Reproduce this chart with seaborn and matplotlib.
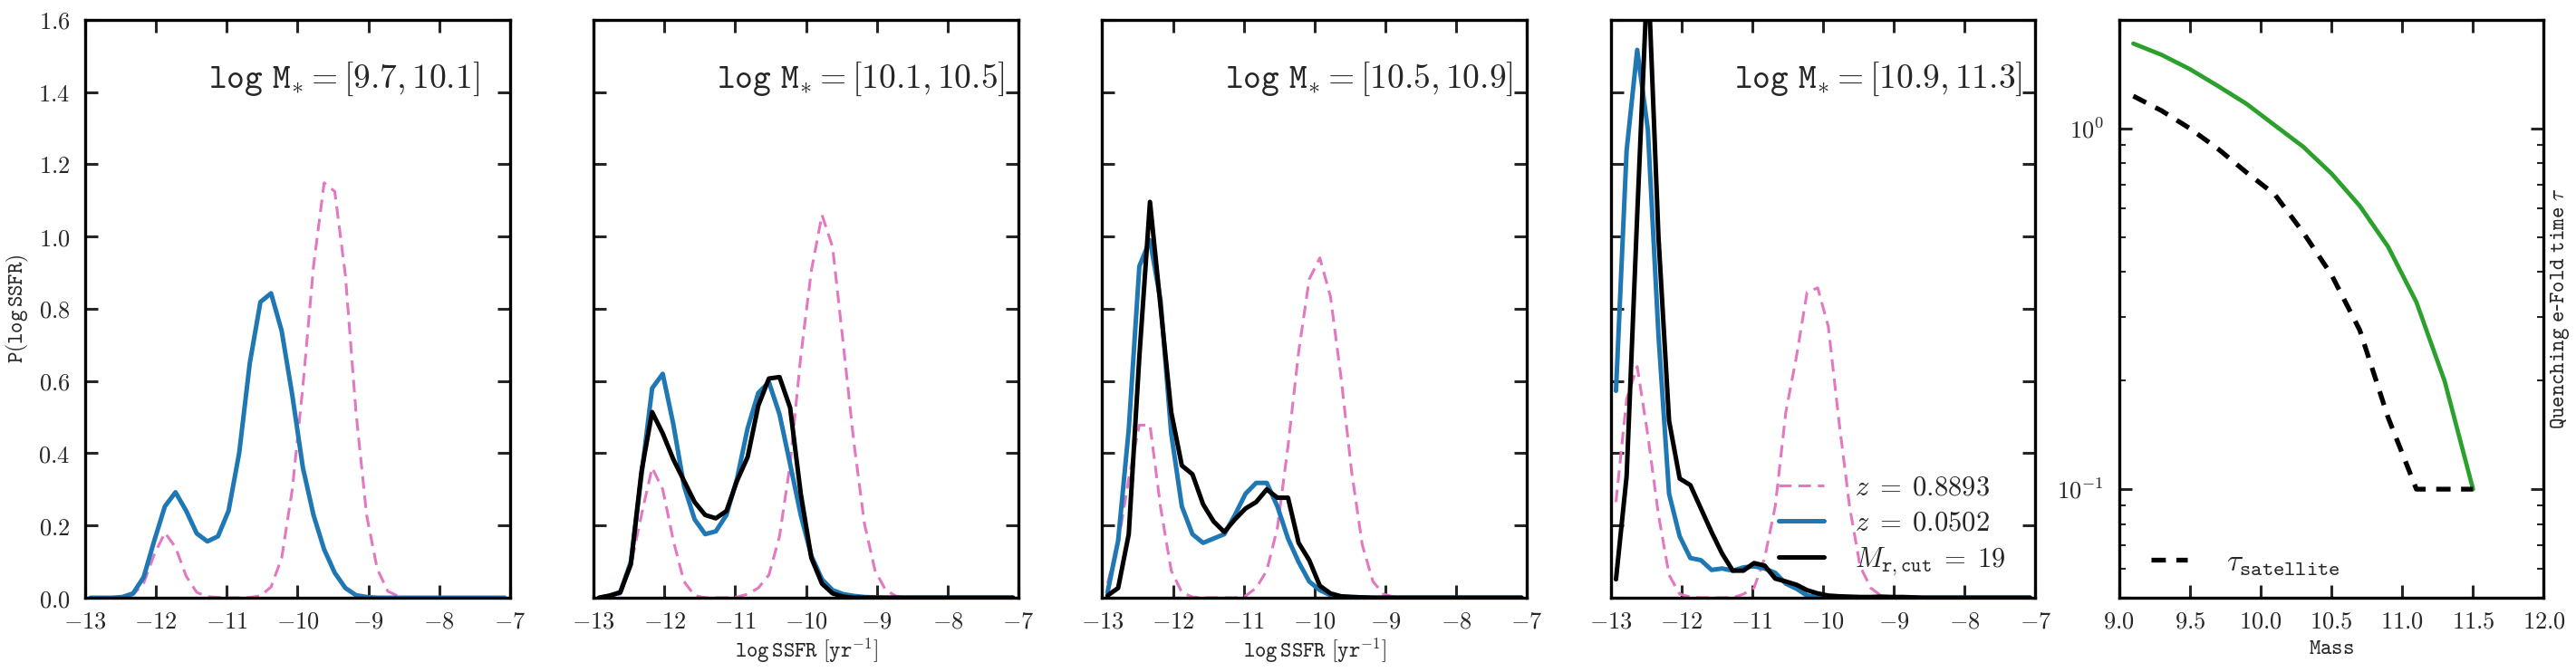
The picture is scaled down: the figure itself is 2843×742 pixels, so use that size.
import numpy as np
import pandas as pd
import matplotlib
matplotlib.use("Agg")
import matplotlib.pyplot as plt
from matplotlib.ticker import FixedLocator, NullFormatter
import seaborn as sns

# ---------------- data ----------------
SSFR_CENTERS = [-12.925, -12.775, -12.625, -12.475, -12.325, -12.175, -12.025, -11.875,
                -11.725, -11.575, -11.425, -11.275, -11.125, -10.975, -10.825, -10.675,
                -10.525, -10.375, -10.225, -10.075, -9.925, -9.775, -9.625, -9.475,
                -9.325, -9.175, -9.025, -8.875, -8.725, -8.575, -8.425, -8.275,
                -8.125, -7.975, -7.825, -7.675, -7.525, -7.375, -7.225, -7.075]

P1_PINK = [0.000, 0.000, 0.000, 0.000, 0.008, 0.040, 0.120, 0.180, 0.140, 0.060,
           0.015, 0.003, 0.001, 0.000, 0.000, 0.001, 0.005, 0.030, 0.110, 0.300,
           0.585, 0.918, 1.149, 1.125, 0.894, 0.514, 0.229, 0.080, 0.018, 0.004,
           0, 0, 0, 0, 0, 0, 0, 0, 0, 0]
P1_BLUE = [0.000, 0.000, 0.000, 0.002, 0.012, 0.057, 0.158, 0.253, 0.292, 0.241,
           0.178, 0.156, 0.170, 0.241, 0.401, 0.650, 0.819, 0.843, 0.739, 0.561,
           0.360, 0.229, 0.134, 0.069, 0.027, 0.007, 0.002, 0.000, 0.000, 0.000,
           0, 0, 0, 0, 0, 0, 0, 0, 0, 0]

P2_PINK = [0.000, 0.000, 0.010, 0.090, 0.230, 0.360, 0.300, 0.158, 0.045, 0.006,
           0.000, 0.000, 0.000, 0.002, 0.010, 0.027, 0.063, 0.170, 0.370, 0.668,
           0.906, 1.060, 0.971, 0.704, 0.431, 0.205, 0.075, 0.021, 0.004, 0.000,
           0, 0, 0, 0, 0, 0, 0, 0, 0, 0]
P2_BLUE = [0.000, 0.005, 0.015, 0.100, 0.340, 0.580, 0.620, 0.480, 0.310, 0.217,
           0.176, 0.184, 0.229, 0.330, 0.470, 0.567, 0.597, 0.508, 0.370, 0.229,
           0.116, 0.051, 0.021, 0.010, 0.005, 0.002, 0.001, 0.000, 0.000, 0.000,
           0, 0, 0, 0, 0, 0, 0, 0, 0, 0]
P2_BLACK = [0.000, 0.006, 0.015, 0.093, 0.350, 0.514, 0.455, 0.383, 0.324, 0.265,
            0.229, 0.220, 0.240, 0.324, 0.390, 0.532, 0.607, 0.611, 0.526, 0.288,
            0.110, 0.039, 0.012, 0.003, 0.000, 0.000, 0.000, 0.000, 0.000, 0.000,
            0, 0, 0, 0, 0, 0, 0, 0, 0, 0]

P3_PINK = [0.040, 0.150, 0.330, 0.478, 0.478, 0.250, 0.075, 0.015, 0.002, 0.000,
           0.000, 0.000, 0.000, 0.005, 0.027, 0.075, 0.193, 0.419, 0.680, 0.882,
           0.941, 0.834, 0.609, 0.348, 0.146, 0.045, 0.010, 0.002, 0.000, 0.000,
           0, 0, 0, 0, 0, 0, 0, 0, 0, 0]
P3_BLUE = [0.015, 0.158, 0.466, 0.918, 0.990, 0.822, 0.455, 0.253, 0.176, 0.152,
           0.164, 0.176, 0.229, 0.288, 0.318, 0.318, 0.253, 0.164, 0.099, 0.045,
           0.021, 0.007, 0.003, 0.002, 0.001, 0.000, 0.000, 0.000, 0.000, 0.000,
           0, 0, 0, 0, 0, 0, 0, 0, 0, 0]
P3_BLACK = [0.006, 0.027, 0.176, 0.668, 1.096, 0.805, 0.514, 0.366, 0.342, 0.259,
            0.211, 0.182, 0.217, 0.247, 0.265, 0.300, 0.277, 0.277, 0.152, 0.104,
            0.033, 0.012, 0.004, 0.002, 0.001, 0.000, 0.000, 0.000, 0.000, 0.000,
            0, 0, 0, 0, 0, 0, 0, 0, 0, 0]

P4_PINK = [0.265, 0.550, 0.640, 0.450, 0.230, 0.063, 0.010, 0.002, 0.000, 0.000,
           0.000, 0.000, 0.010, 0.027, 0.110, 0.253, 0.514, 0.668, 0.846, 0.858,
           0.751, 0.490, 0.253, 0.087, 0.027, 0.005, 0.000, 0.000, 0.000, 0.000,
           0, 0, 0, 0, 0, 0, 0, 0, 0, 0]
P4_BLUE = [0.573, 1.238, 1.517, 1.297, 0.728, 0.288, 0.170, 0.110, 0.104, 0.077,
           0.081, 0.075, 0.084, 0.087, 0.081, 0.069, 0.039, 0.025, 0.006, 0.002,
           0.001, 0.001, 0.000, 0.000, 0.000, 0.000, 0.000, 0.000, 0.000, 0.000,
           0, 0, 0, 0, 0, 0, 0, 0, 0, 0]
P4_BLACK = [0.051, 0.336, 1.060, 1.750, 1.000, 0.490, 0.330, 0.312, 0.247, 0.182,
            0.122, 0.075, 0.075, 0.096, 0.089, 0.053, 0.045, 0.036, 0.021, 0.012,
            0.006, 0.004, 0.003, 0.002, 0.002, 0.003, 0.002, 0.002, 0.001, 0.000,
            0, 0, 0, 0, 0, 0, 0, 0, 0, 0]

PANEL_TITLES = [r"$\mathtt{log\ M}_{*} = [\mathsf{9.7}, \mathsf{10.1}]$",
                r"$\mathtt{log\ M}_{*} = [\mathsf{10.1}, \mathsf{10.5}]$",
                r"$\mathtt{log\ M}_{*} = [\mathsf{10.5}, \mathsf{10.9}]$",
                r"$\mathtt{log\ M}_{*} = [\mathsf{10.9}, \mathsf{11.3}]$"]
LEGEND_LABELS = [r"$z\;=\;\mathsf{0.8893}$", r"$z\;=\;\mathsf{0.0502}$",
                 r"$M_{\mathtt{r,cut}}\;=\;\mathsf{19}$"]

SSFR_TICKS = [-13, -12, -11, -10, -9, -8, -7]
SSFR_TICKLABELS = ["-13", "-12", "-11", "-10", "-9", "-8", "-7"]
P_TICKS = [0.0, 0.2, 0.4, 0.6, 0.8, 1.0, 1.2, 1.4, 1.6]
P_TICKLABELS = ["0.0", "0.2", "0.4", "0.6", "0.8", "1.0", "1.2", "1.4", "1.6"]

MASS = [9.1, 9.3, 9.5, 9.7, 9.9, 10.1, 10.3, 10.5, 10.7, 10.9, 11.1, 11.3, 11.5]
TAU_CENTRAL = [1.72, 1.60, 1.46, 1.31, 1.17, 1.02, 0.89, 0.75, 0.61, 0.47, 0.33, 0.199, 0.10]
TAU_SATELLITE = [1.23, 1.12, 1.00, 0.877, 0.755, 0.656, 0.515, 0.393, 0.276, 0.158, 0.10, 0.10, 0.10]
MASS_TICKS = [9.0, 9.5, 10.0, 10.5, 11.0, 11.5, 12.0]
MASS_TICKLABELS = ["9.0", "9.5", "10.0", "10.5", "11.0", "11.5", "12.0"]
TAU_TICKS = [0.1, 1.0]
TAU_TICKLABELS = ["10^{-1}", "10^{0}"]
TAU_MINOR = [0.05, 0.06, 0.07, 0.08, 0.09, 0.2, 0.3, 0.4, 0.5, 0.6, 0.7, 0.8, 0.9, 2.0]

PINK = "#e377c2"
BLUE = "#1f77b4"
GREEN = "#2ca02c"

# ---------------- style ----------------
sns.set_style("ticks")
plt.rcParams.update({
    "font.family": ["DejaVu Sans"],
    "mathtext.fontset": "cm",
    "axes.linewidth": 2.4,
    "xtick.direction": "in",
    "ytick.direction": "in",
    "xtick.top": True,
    "ytick.right": True,
    "xtick.major.size": 10,
    "ytick.major.size": 10,
    "xtick.major.width": 2.2,
    "ytick.major.width": 2.2,
    "xtick.minor.size": 5,
    "ytick.minor.size": 5,
    "xtick.minor.width": 1.5,
    "ytick.minor.width": 1.5,
    "xtick.major.pad": 10,
    "ytick.major.pad": 12,
    "axes.edgecolor": "black",
})

fig, axes = plt.subplots(1, 5, figsize=(28.43, 7.42), dpi=100)
fig.subplots_adjust(left=0.0331, right=0.9875, bottom=0.1105, top=0.9704, wspace=0.1974)

def sf(s):
    return r"$\mathsf{" + s + "}$"

panel_data = [(P1_PINK, P1_BLUE, None), (P2_PINK, P2_BLUE, P2_BLACK),
              (P3_PINK, P3_BLUE, P3_BLACK), (P4_PINK, P4_BLUE, P4_BLACK)]

for i, (pink, blue, black) in enumerate(panel_data):
    ax = axes[i]
    sns.lineplot(x=SSFR_CENTERS, y=pink, ax=ax, color=PINK, lw=2.2,
                 linestyle=(0, (4.5, 2.5)), label=LEGEND_LABELS[0], sort=False)
    sns.lineplot(x=SSFR_CENTERS, y=blue, ax=ax, color=BLUE, lw=3.6,
                 label=LEGEND_LABELS[1], sort=False)
    if black is not None:
        sns.lineplot(x=SSFR_CENTERS, y=black, ax=ax, color="black", lw=3.6,
                     label=LEGEND_LABELS[2], sort=False)
    ax.set_xlim(-13, -7)
    ax.set_ylim(0, 1.6)
    ax.set_xticks(SSFR_TICKS)
    ax.set_xticklabels([sf(t) for t in SSFR_TICKLABELS], fontsize=19)
    ax.set_yticks(P_TICKS)
    if i == 0:
        ax.set_yticklabels([sf(t) for t in P_TICKLABELS], fontsize=19)
        ax.set_ylabel(r"$\mathtt{P(log\,SSFR)}$", fontsize=17, labelpad=6)
    else:
        ax.set_yticklabels([])
        ax.set_ylabel("")
    if i in (1, 2):
        ax.set_xlabel(r"$\mathtt{log\,SSFR}\ [\mathtt{yr}^{-1}]$", fontsize=17, labelpad=2)
    else:
        ax.set_xlabel("")
    ax.text(0.29, 0.898, PANEL_TITLES[i], transform=ax.transAxes, ha="left",
            va="center", fontsize=27)
    if i == 3:
        ax.legend(loc="lower right", bbox_to_anchor=(0.93, 0.035), frameon=False,
                  fontsize=22, handlelength=1.65, handletextpad=1.1,
                  labelspacing=0.35, borderpad=0, borderaxespad=0)
    else:
        ax.get_legend().remove()
    for sp in ax.spines.values():
        sp.set_visible(True)
        sp.set_linewidth(2.4)

# ---------------- panel 5 ----------------
ax = axes[4]
sns.lineplot(x=MASS, y=TAU_CENTRAL, ax=ax, color=GREEN, lw=3.4, sort=False)
sns.lineplot(x=MASS, y=TAU_SATELLITE, ax=ax, color="black", lw=3.8,
             linestyle=(0, (3, 2.2)), label=r"$\tau_{\mathtt{satellite}}$", sort=False)
ax.set_yscale("log")
ax.set_xlim(9, 12)
ax.set_ylim(0.05, 2)
ax.set_xticks(MASS_TICKS)
ax.set_xticklabels([sf(t) for t in MASS_TICKLABELS], fontsize=19)
ax.yaxis.set_major_locator(FixedLocator(TAU_TICKS))
ax.set_yticklabels([sf(t) for t in TAU_TICKLABELS], fontsize=19)
ax.yaxis.set_minor_locator(FixedLocator(TAU_MINOR))
ax.yaxis.set_minor_formatter(NullFormatter())
ax.tick_params(axis="y", which="both", left=True, right=True, direction="in")
ax.set_xlabel(r"$\mathtt{Mass}$", fontsize=17, labelpad=2)
ax.yaxis.set_label_position("right")
ax.set_ylabel(r"$\mathtt{Quenching\ e}$-$\mathtt{Fold\ time}\ \tau$", fontsize=17,
              rotation=90, labelpad=4)
ax.legend(loc="lower left", bbox_to_anchor=(0.075, 0.035), frameon=False, fontsize=24,
          handlelength=1.2, handletextpad=1.3, borderpad=0, borderaxespad=0)
for sp in ax.spines.values():
    sp.set_visible(True)
    sp.set_linewidth(2.4)

fig.savefig("out.png", dpi=100)
